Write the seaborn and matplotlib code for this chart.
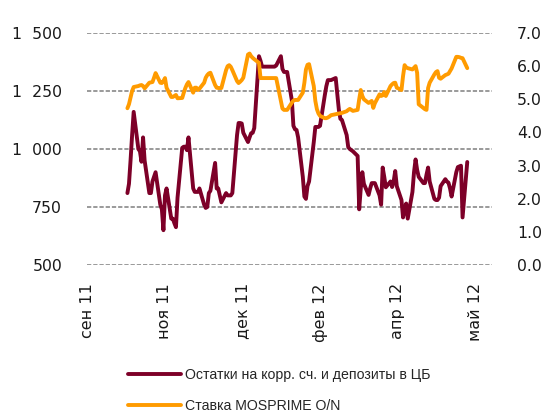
import numpy as np
import pandas as pd
import matplotlib
matplotlib.use("Agg")
import matplotlib.pyplot as plt
import seaborn as sns

# ---------------- data ----------------
red_label = "Остатки на корр. сч. и депозиты в ЦБ"
orange_label = "Ставка MOSPRIME O/N"

balances = [
    810, 850, 950, 1060, 1160,
    1000, 990, 945, 1050, 950,
    810, 810, 860, 880, 900,
    760, 740, 650, 800, 830,
    700, 700, 680, 663, 790,
    1005, 1010, 1010, 995, 1050,
    830, 815, 815, 815, 830,
    760, 746, 750, 810, 820,
    940, 830, 830, 800, 770,
    810, 800, 800, 800, 810,
    1060, 1112, 1112, 1110, 1070,
    1030, 1050, 1068, 1070, 1090,
    1400, 1380, 1355, 1355, 1355,
    1355, 1355, 1355, 1355, 1360,
    1400, 1345, 1332, 1332, 1332,
    1210, 1100, 1085, 1082, 1050,
    880, 795, 785, 840, 860,
    1030, 1095, 1095, 1095, 1100,
    1230, 1270, 1297, 1297, 1297,
    1306, 1240, 1170, 1130, 1125,
    1060, 1008, 1000, 995, 990,
    970, 740, 830, 900, 850,
    802, 830, 853, 853, 853,
    800, 760, 920, 880, 835,
    860, 836, 860, 905, 840,
    780, 705, 740, 765, 700,
    815, 900, 955, 910, 880,
    853, 853, 890, 920, 860,
    785, 780, 780, 790, 840,
    870, 860, 855, 830, 795,
    900, 922, 925, 928, 705,
    944,
]

mosprime = [
    4.73, 4.85, 5.05, 5.25, 5.37,
    5.40, 5.42, 5.43, 5.40, 5.33,
    5.50, 5.51, 5.52, 5.65, 5.79,
    5.50, 5.49, 5.55, 5.64, 5.35,
    5.07, 5.07, 5.10, 5.13, 5.03,
    5.04, 5.20, 5.34, 5.45, 5.52,
    5.20, 5.35, 5.35, 5.28, 5.32,
    5.50, 5.65, 5.73, 5.78, 5.80,
    5.43, 5.35, 5.34, 5.34, 5.34,
    5.88, 6.00, 6.03, 5.98, 5.88,
    5.55, 5.49, 5.53, 5.58, 5.65,
    6.35, 6.38, 6.30, 6.25, 6.21,
    6.10, 5.64, 5.64, 5.64, 5.64,
    5.64, 5.64, 5.64, 5.64, 5.64,
    4.95, 4.72, 4.68, 4.68, 4.68,
    4.90, 4.96, 4.98, 4.98, 4.98,
    5.20, 5.50, 5.90, 6.04, 6.06,
    5.40, 4.95, 4.70, 4.57, 4.50,
    4.43, 4.43, 4.45, 4.48, 4.52,
    4.55, 4.56, 4.57, 4.58, 4.59,
    4.64, 4.68, 4.71, 4.68, 4.65,
    4.68, 5.00, 5.28, 5.10, 5.00,
    4.89, 4.92, 4.95, 4.74, 4.88,
    5.15, 5.10, 5.12, 5.22, 5.10,
    5.40, 5.45, 5.49, 5.50, 5.35,
    5.28, 5.70, 6.03, 5.96, 5.94,
    5.90, 5.95, 6.00, 5.80, 4.85,
    4.74, 4.70, 4.68, 5.34, 5.50,
    5.75, 5.82, 5.85, 5.65, 5.62,
    5.73, 5.75, 5.77, 5.85, 5.93,
    6.28, 6.28, 6.27, 6.25, 6.24,
    5.94,
]

start_date = "2011-10-10"
x_tick_labels = ["сен 11", "ноя 11", "дек 11", "фев 12", "апр 12", "май 12"]
left_ticks = [500, 750, 1000, 1250, 1500]
left_tick_labels = ["500", "750", "1\u2007000", "1\u2007250", "1\u2007500"]
right_ticks = [0, 1, 2, 3, 4, 5, 6, 7]

# ---------------- style ----------------
sns.set_style("white")
plt.rcParams["font.family"] = ["DejaVu Sans"]

RED = "#7D0028"
ORANGE = "#FF9B00"
GRID = "#9A9A9A"
TXT = "#1a1a1a"

df = pd.DataFrame({
    "date": pd.bdate_range(start_date, periods=len(balances)),
    "balances": balances,
    "mosprime": mosprime,
})

W, H = 552, 412
fig = plt.figure(figsize=(W / 100, H / 100), dpi=100)
ax = fig.add_axes([87 / W, 1 - 265 / H, 405 / W, 232 / H])

t0 = pd.Timestamp("2011-09-14 12:00")
step = pd.Timedelta(days=49.5)
tick_dates = [t0 + k * step for k in range(len(x_tick_labels))]

sns.lineplot(data=df, x="date", y="balances", ax=ax, color=RED, lw=2.8,
             label=red_label, legend=False)
ax2 = ax.twinx()
sns.lineplot(data=df, x="date", y="mosprime", ax=ax2, color=ORANGE, lw=2.8,
             label=orange_label, legend=False)

ax.set_xlim(t0 - pd.Timedelta(days=0.3), t0 + pd.Timedelta(days=258.3))
ax.set_ylim(500, 1500)
ax2.set_ylim(0, 7)

for a in (ax, ax2):
    for s in a.spines.values():
        s.set_visible(False)
    a.set_xlabel("")
    a.set_ylabel("")

for v in left_ticks:
    ax.axhline(v, color=GRID, lw=1.4, ls=(0, (2.2, 1.0)), zorder=0)

ax.set_xticks(tick_dates)
ax.set_xticklabels(x_tick_labels, rotation=90, fontsize=11.5, color=TXT)
ax.set_yticks(left_ticks)
ax.set_yticklabels(left_tick_labels, fontsize=11.3, color=TXT)
ax2.set_yticks(right_ticks)
ax2.set_yticklabels([f"{v:.1f}" for v in right_ticks], fontsize=11.3, color=TXT)

ax.tick_params(axis="x", length=0, pad=13)
ax.tick_params(axis="y", length=0, pad=18)
ax2.tick_params(axis="y", length=0, pad=18)
ax.grid(False)
ax2.grid(False)

h1, l1 = ax.get_legend_handles_labels()
h2, l2 = ax2.get_legend_handles_labels()
fig.legend(h1 + h2, l1 + l2, loc="upper left",
           bbox_to_anchor=(128 / W, 1 - 368 / H),
           frameon=False, handlelength=3.75,
           handletextpad=0.25, labelspacing=1.2, borderpad=0,
           borderaxespad=0,
           prop={"family": ["Liberation Sans", "DejaVu Sans"], "size": 10.2})

fig.savefig("out.png", dpi=100)
